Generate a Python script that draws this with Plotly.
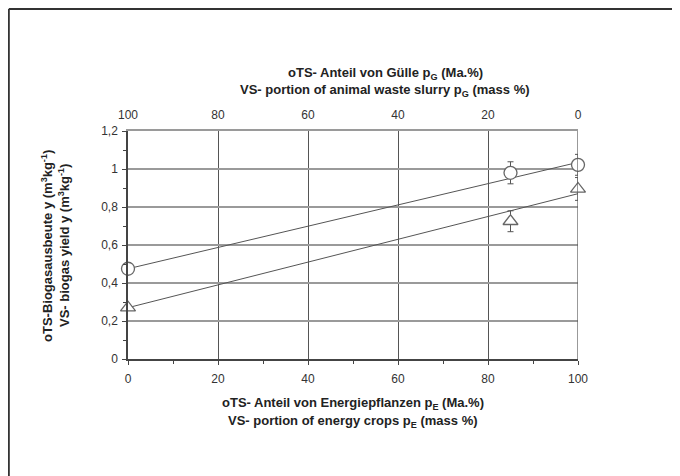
import plotly.graph_objects as go

# Data
energy_share = [0, 85, 100]
yield_circle = [0.475, 0.98, 1.022]
err_circle = [0.0, 0.058, 0.055]
yield_triangle = [0.27, 0.725, 0.895]
err_triangle = [0.0, 0.055, 0.06]
fit_x = [0, 100]
fit_circle = [0.475, 1.035]
fit_triangle = [0.27, 0.87]
top_ticks = [100, 80, 60, 40, 20, 0]

FONT = "Liberation Sans, Arial, sans-serif"
LINE = "#555555"

fig = go.Figure()

fig.add_trace(go.Scatter(x=fit_x, y=fit_circle, mode="lines",
                         line=dict(color=LINE, width=1), hoverinfo="skip", showlegend=False))
fig.add_trace(go.Scatter(x=fit_x, y=fit_triangle, mode="lines",
                         line=dict(color=LINE, width=1), hoverinfo="skip", showlegend=False))

fig.add_trace(go.Scatter(x=energy_share, y=yield_circle, mode="markers", cliponaxis=False,
                         marker=dict(symbol="circle", size=13, color="white",
                                     line=dict(color="#666666", width=1.3)),
                         error_y=dict(type="data", array=err_circle, visible=True,
                                      color="#555555", thickness=1, width=3),
                         showlegend=False))
fig.add_trace(go.Scatter(x=energy_share, y=yield_triangle, mode="markers", cliponaxis=False,
                         marker=dict(symbol="triangle-up", size=13, color="white",
                                     line=dict(color="#666666", width=1.3)),
                         error_y=dict(type="data", array=err_triangle, visible=True,
                                      color="#555555", thickness=1, width=3),
                         showlegend=False))

# invisible trace for top axis
fig.add_trace(go.Scatter(x=top_ticks, y=[None]*len(top_ticks), xaxis="x2",
                         mode="markers", showlegend=False, hoverinfo="skip"))

# page is shown with an 8px body margin, so work in page coords shifted by 8
OFF = 8
W, H = 680 - OFF, 476 - OFF
L, T = 128 - OFF, 131 - OFF
R = W - (578 - OFF)
B = H - (359 - OFF)
pw, ph = W - L - R, H - T - B

def px(x):
    return (x - OFF - L) / pw

def py(y):
    return (H - B - (y - OFF)) / ph

fig.update_layout(
    width=W, height=H,
    margin=dict(l=L, r=R, t=T, b=B),
    paper_bgcolor="white", plot_bgcolor="white",
    separators=",.",
    font=dict(family=FONT, size=12, color="#333333"),
    xaxis=dict(range=[0, 100], tickvals=[0, 20, 40, 60, 80, 100],
               showgrid=True, gridcolor="#555555", gridwidth=1,
               showline=True, linecolor="#444444", linewidth=1.5,
               mirror=False, ticks="outside", ticklen=4, tickcolor="#444444",
               minor=dict(dtick=10, ticks="outside", ticklen=3, tickcolor="#444444"),
               zeroline=False, tickfont=dict(size=12), ticklabelstandoff=4),
    xaxis2=dict(range=[100, 0], overlaying="x", side="top",
                tickvals=top_ticks, showgrid=False, showline=True,
                linecolor="#9a9a9a", linewidth=2, ticks="", zeroline=False,
                tickfont=dict(size=12), ticklabelstandoff=5),
    yaxis=dict(range=[0, 1.2], dtick=0.2, showgrid=True, gridcolor="#9a9a9a",
               gridwidth=2, showline=True, linecolor="#444444", linewidth=1.5,
               ticks="outside", ticklen=4, tickcolor="#444444",
               minor=dict(dtick=0.1, ticks="outside", ticklen=3, tickcolor="#444444"),
               zeroline=False, tickfont=dict(size=12), ticklabelstandoff=2),
)

# right frame line at x=100
fig.add_shape(type="line", xref="x", yref="paper", x0=100, x1=100, y0=0, y1=1,
              line=dict(color="#555555", width=1.2))

# outer image border (left and top)
fig.add_shape(type="line", xref="paper", yref="paper", x0=px(8.8), x1=px(690), y0=py(9), y1=py(9),
              line=dict(color="#333333", width=2))
fig.add_shape(type="line", xref="paper", yref="paper", x0=px(8.8), x1=px(8.8), y0=py(9), y1=py(490),
              line=dict(color="#333333", width=2))

tfont = dict(family=FONT, size=13, color="#222222")
ann = [
    ("<b>oTS- Anteil von Gülle p<sub>G</sub> (Ma.%)</b>", 385, 73, 0),
    ("<b>VS- portion of animal waste slurry p<sub>G</sub> (mass %)</b>", 385, 91, 0),
    ("<b>oTS- Anteil von Energiepflanzen p<sub>E</sub> (Ma.%)</b>", 353, 403, 0),
    ("<b>VS- portion of energy crops p<sub>E</sub> (mass %)</b>", 353, 421, 0),
    ("<b>oTS-Biogasausbeute y (m<sup>3</sup>kg<sup>-1</sup>)</b>", 47, 246, -90),
    ("<b>VS- biogas yield y (m<sup>3</sup>kg<sup>-1</sup>)</b>", 64, 246, -90),
]
for text, x, y, ang in ann:
    fig.add_annotation(text=text, xref="paper", yref="paper", x=px(x), y=py(y),
                       xanchor="center", yanchor="middle", showarrow=False,
                       textangle=ang, font=tfont)

fig.write_html("out.html")
